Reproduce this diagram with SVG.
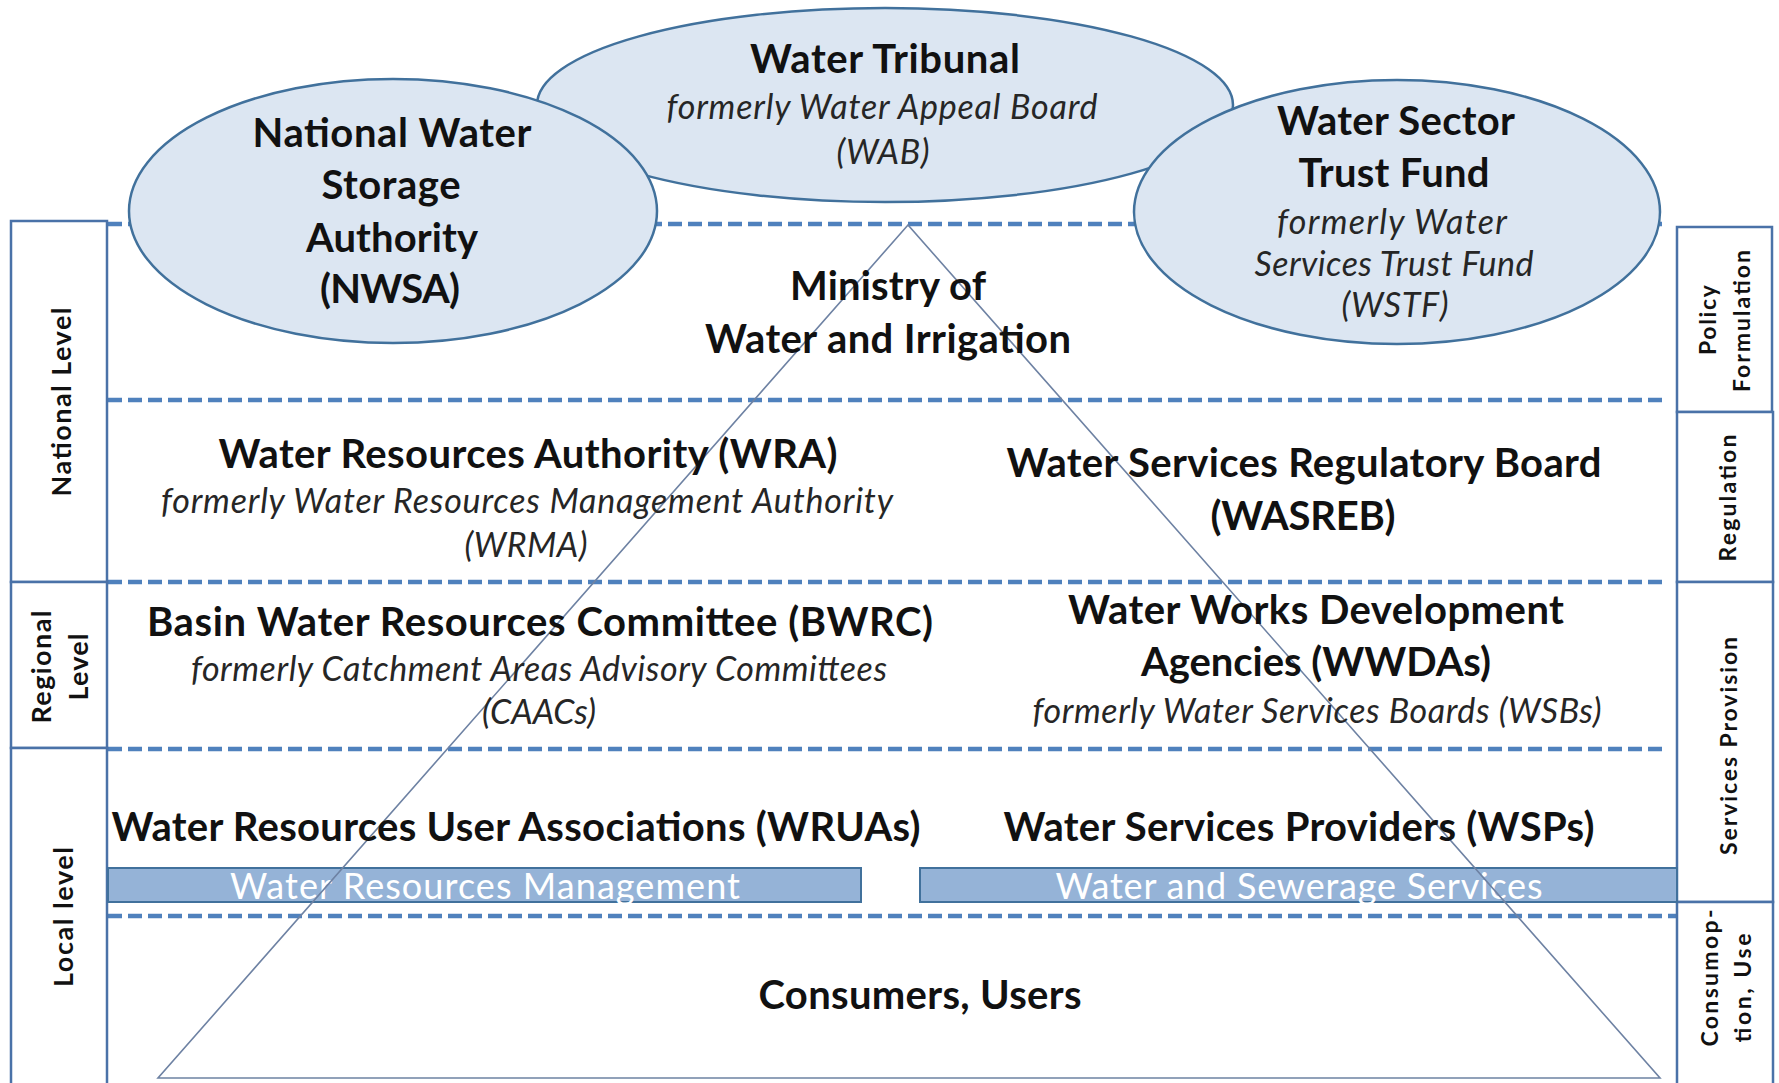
<svg xmlns="http://www.w3.org/2000/svg" width="1779" height="1083" viewBox="0 0 1779 1083">
<style>
text{font-family:Lato,"Liberation Sans",sans-serif;text-anchor:middle}
.b{font-weight:700;font-size:40px;fill:#111}
.i{font-style:italic;font-size:34px;fill:#262626}
.w{font-size:36px;fill:#fff}
.l{font-weight:700;font-size:27px;fill:#111}
.r{font-weight:700;font-size:23px;fill:#111}
.dash{stroke:#4F81BD;stroke-width:4.5;stroke-dasharray:14 6;fill:none}
.box{fill:#fff;stroke:#4A72A8;stroke-width:2.5}
.ell{fill:#DCE6F2;stroke:#41719C;stroke-width:2.5}
.bar{fill:#95B3D7;stroke:#41719C;stroke-width:2}
.tri{fill:none;stroke:#6E82A3;stroke-width:1.6}
</style>
<rect width="1779" height="1083" fill="#fff"/>
<g id="levels">
<line class="dash" x1="108" y1="224" x2="1668" y2="224"/>
<line class="dash" x1="108" y1="400" x2="1668" y2="400"/>
<line class="dash" x1="108" y1="582" x2="1668" y2="582"/>
<line class="dash" x1="108" y1="749" x2="1668" y2="749"/>
<line class="dash" x1="108" y1="916" x2="1676" y2="916"/>
</g>
<g id="left-labels">
<g id="national-level"><rect class="box" x="11" y="221" width="96" height="361"/>
<text class="l" transform="translate(71,402) rotate(-90)" textLength="189">National Level</text></g>
<g id="regional-level"><rect class="box" x="11" y="582" width="96" height="166"/>
<text class="l" transform="translate(51,667) rotate(-90)" font-size="25" textLength="113">Regional</text>
<text class="l" transform="translate(88,667) rotate(-90)" font-size="25" textLength="67">Level</text></g>
<g id="local-level"><rect class="box" x="11" y="748" width="96" height="340"/>
<text class="l" transform="translate(73,917) rotate(-90)" textLength="140">Local level</text></g>
</g>
<g id="right-labels">
<g id="policy"><rect class="box" x="1677" y="227" width="95" height="185"/>
<text class="r" transform="translate(1716,320) rotate(-90)" textLength="70">Policy</text>
<text class="r" transform="translate(1750,321) rotate(-90)" textLength="142">Formulation</text></g>
<g id="regulation"><rect class="box" x="1677" y="412" width="96" height="170"/>
<text class="r" transform="translate(1736,498) rotate(-90)" textLength="127">Regulation</text></g>
<g id="services-provision"><rect class="box" x="1677" y="582" width="96" height="320"/>
<text class="r" transform="translate(1737,746) rotate(-90)" textLength="218">Services Provision</text></g>
<g id="consumption"><rect class="box" x="1677" y="902" width="96" height="186"/>
<text class="r" transform="translate(1718,978) rotate(-90)" textLength="137">Consumop-</text>
<text class="r" transform="translate(1751,988) rotate(-90)" textLength="109">tion, Use</text></g>
</g>
<g id="wrm-bar"><rect class="bar" x="108" y="868" width="753" height="34"/>
<text class="w" x="485" y="899" textLength="510">Water Resources Management</text></g>
<g id="wss-bar"><rect class="bar" x="920" y="868" width="757" height="34"/>
<text class="w" x="1299" y="899" textLength="487">Water and Sewerage Services</text></g>
<g id="connectors">
<polygon class="tri" points="908,225 158,1078 1660,1078"/>
</g>
<g id="water-tribunal"><ellipse class="ell" cx="885" cy="105" rx="348" ry="97"/>
<text class="b" x="885" y="73" textLength="270">Water Tribunal</text>
<text class="i" x="882" y="119" textLength="431">formerly Water Appeal Board</text>
<text class="i" x="883" y="164" textLength="93">(WAB)</text></g>
<g id="nwsa"><ellipse class="ell" cx="393" cy="211" rx="264" ry="132"/>
<text class="b" x="392" y="147" textLength="279">National Water</text>
<text class="b" x="391" y="199" textLength="139">Storage</text>
<text class="b" x="392" y="252" textLength="172">Authority</text>
<text class="b" x="390" y="303" textLength="140">(NWSA)</text></g>
<g id="wstf"><ellipse class="ell" cx="1397" cy="212" rx="263" ry="132"/>
<text class="b" x="1396" y="135" textLength="238">Water Sector</text>
<text class="b" x="1394" y="187" textLength="191">Trust Fund</text>
<text class="i" x="1392" y="234" textLength="230">formerly Water</text>
<text class="i" x="1394" y="276" textLength="279">Services Trust Fund</text>
<text class="i" x="1395" y="317" textLength="107">(WSTF)</text></g>
<g id="ministry">
<text class="b" x="888" y="300" textLength="196">Ministry of</text>
<text class="b" x="888" y="353" textLength="366">Water and Irrigation</text></g>
<g id="wra">
<text class="b" x="528" y="468" textLength="619">Water Resources Authority (WRA)</text>
<text class="i" x="527" y="513" textLength="732">formerly Water Resources Management Authority</text>
<text class="i" x="526" y="557" textLength="123">(WRMA)</text></g>
<g id="wasreb">
<text class="b" x="1304" y="477" textLength="595">Water Services Regulatory Board</text>
<text class="b" x="1303" y="530" textLength="185">(WASREB)</text></g>
<g id="bwrc">
<text class="b" x="540" y="636" textLength="786">Basin Water Resources Committee (BWRC)</text>
<text class="i" x="539" y="681" textLength="696">formerly Catchment Areas Advisory Committees</text>
<text class="i" x="539" y="724" textLength="114">(CAACs)</text></g>
<g id="wwdas">
<text class="b" x="1316" y="624" textLength="496">Water Works Development</text>
<text class="b" x="1316" y="676" textLength="350">Agencies (WWDAs)</text>
<text class="i" x="1317" y="723" textLength="569">formerly Water Services Boards (WSBs)</text></g>
<g id="wruas">
<text class="b" x="516" y="841" textLength="809">Water Resources User Associations (WRUAs)</text></g>
<g id="wsps">
<text class="b" x="1299" y="841" textLength="591">Water Services Providers (WSPs)</text></g>
<g id="consumers">
<text class="b" x="920" y="1009" textLength="323">Consumers, Users</text></g>
</svg>
